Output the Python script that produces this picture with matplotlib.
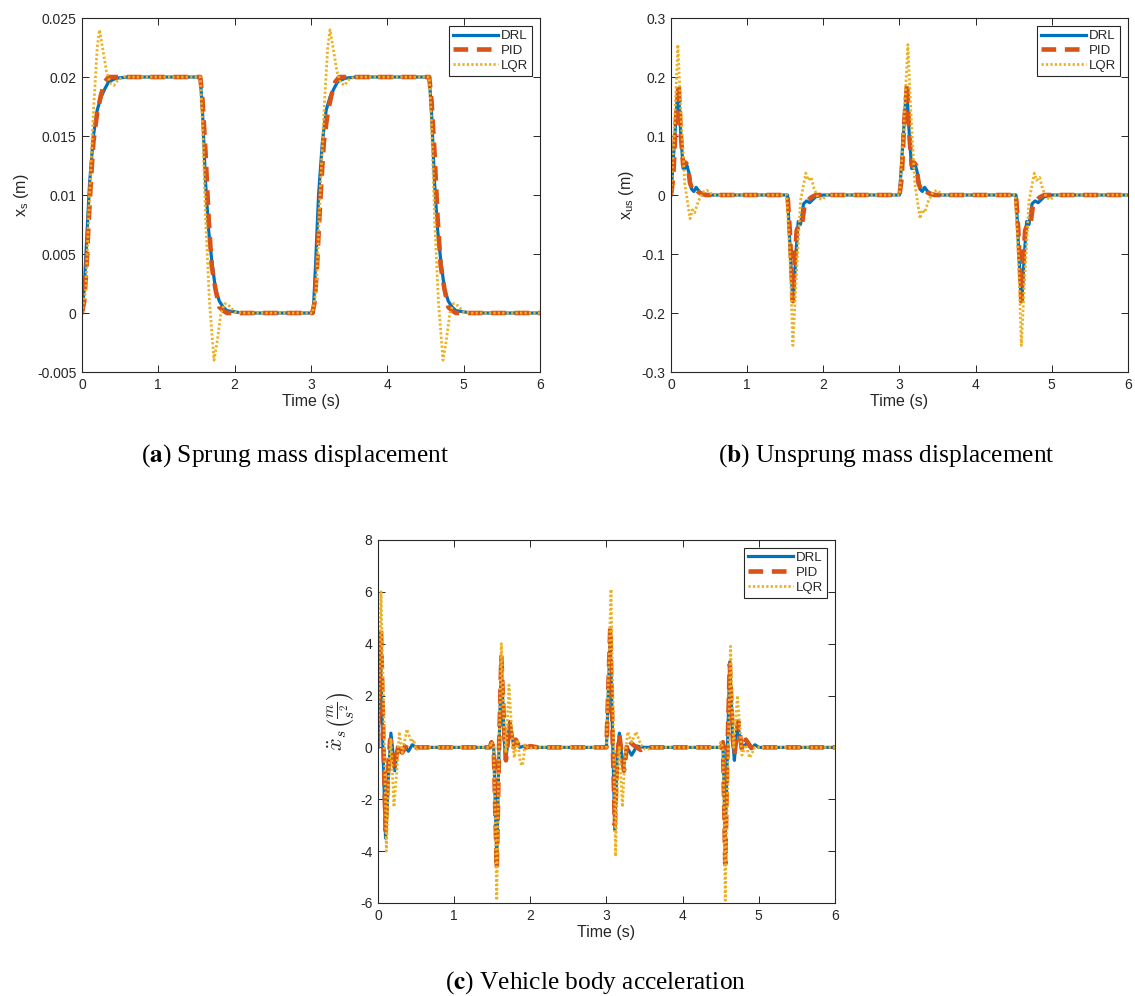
import matplotlib
matplotlib.use("Agg")
import matplotlib.pyplot as plt

plt.rcParams["font.family"] = ["Liberation Sans", "DejaVu Sans"]
plt.rcParams["axes.unicode_minus"] = False

C_DRL = "#0072BD"
C_PID = "#D95319"
C_LQR = "#EDB120"
TXT = "#262626"

TIME_TICKS = [0, 1, 2, 3, 4, 5, 6]

# ---- (a) sprung mass displacement (m)
a_drl_t = [0, 0.03, 0.06, 0.10, 0.15, 0.20, 0.25, 0.30, 0.35, 0.45, 0.60,
           1.55, 1.58, 1.62, 1.66, 1.70, 1.75, 1.80, 1.85, 1.90, 2.00, 2.10,
           3.03, 3.06, 3.10, 3.15, 3.20, 3.25, 3.30, 3.35, 3.45, 3.60,
           4.55, 4.58, 4.62, 4.66, 4.70, 4.75, 4.80, 4.85, 4.90, 5.00, 5.10, 6.0]
a_drl_y = [0, 0.002, 0.006, 0.011, 0.015, 0.0172, 0.0183, 0.019, 0.0196, 0.0199, 0.02,
           0.02, 0.017, 0.011, 0.007, 0.0045, 0.002, 0.001, 0.0005, 0.0002, 0.0001, 0,
           0, 0.004, 0.010, 0.0145, 0.0172, 0.0183, 0.019, 0.0196, 0.0199, 0.02,
           0.02, 0.017, 0.011, 0.007, 0.0045, 0.002, 0.001, 0.0005, 0.0002, 0.0001, 0, 0]

a_pid_t = [0, 0.03, 0.06, 0.09, 0.12, 0.15, 0.20, 0.25, 0.30, 0.35,
           1.55, 1.58, 1.62, 1.66, 1.70, 1.75, 1.80, 1.85, 1.90,
           3.02, 3.05, 3.08, 3.11, 3.14, 3.17, 3.22, 3.27, 3.32, 3.37,
           4.55, 4.58, 4.62, 4.66, 4.70, 4.75, 4.80, 4.85, 4.90, 6.0]
a_pid_y = [0, 0.001, 0.004, 0.008, 0.0115, 0.0145, 0.017, 0.0185, 0.0196, 0.02,
           0.02, 0.018, 0.0135, 0.008, 0.004, 0.002, 0.0005, 0.0002, 0,
           0, 0.001, 0.004, 0.008, 0.0115, 0.0145, 0.017, 0.0185, 0.0196, 0.02,
           0.02, 0.018, 0.0135, 0.008, 0.004, 0.002, 0.0005, 0.0002, 0, 0]

a_lqr_t = [0, 0.05, 0.10, 0.15, 0.20, 0.23, 0.27, 0.32, 0.37, 0.42, 0.48, 0.55,
           1.55, 1.58, 1.62, 1.67, 1.73, 1.77, 1.82, 1.87, 1.93, 2.00, 2.10,
           3.02, 3.07, 3.12, 3.17, 3.22, 3.25, 3.29, 3.34, 3.39, 3.44, 3.50, 3.57,
           4.55, 4.58, 4.62, 4.67, 4.73, 4.77, 4.82, 4.87, 4.93, 5.00, 5.10, 6.0]
a_lqr_y = [0, 0.002, 0.010, 0.017, 0.0225, 0.024, 0.0225, 0.0205, 0.0195, 0.0193, 0.0198, 0.02,
           0.02, 0.016, 0.008, 0.001, -0.004, -0.0025, 0.0, 0.0008, 0.0006, 0.0001, 0,
           0, 0.002, 0.010, 0.017, 0.0225, 0.024, 0.0225, 0.0205, 0.0195, 0.0193, 0.0198, 0.02,
           0.02, 0.016, 0.008, 0.001, -0.004, -0.0025, 0.0, 0.0008, 0.0006, 0.0001, 0, 0]

a_yticks = [-0.005, 0, 0.005, 0.01, 0.015, 0.02, 0.025]

# ---- (b) unsprung mass displacement (m)
b_drl_t = [0, 0.04, 0.08, 0.10, 0.13, 0.16, 0.18, 0.21, 0.24, 0.27, 0.30, 0.33, 0.37, 0.42, 0.50,
           1.53, 1.56, 1.59, 1.61, 1.64, 1.67, 1.70, 1.74, 1.78, 1.82, 1.86, 1.90, 2.00,
           3.00, 3.04, 3.08, 3.10, 3.13, 3.16, 3.18, 3.21, 3.24, 3.27, 3.30, 3.33, 3.37, 3.42, 3.50,
           4.53, 4.56, 4.59, 4.61, 4.64, 4.67, 4.70, 4.74, 4.78, 4.82, 4.86, 4.90, 5.00, 6.0]
b_drl_y = [0, 0.08, 0.16, 0.17, 0.10, 0.045, 0.045, 0.05, 0.035, 0.01, 0.006, 0.013, 0.006, 0.002, 0,
           0, -0.08, -0.16, -0.17, -0.10, -0.045, -0.05, -0.015, -0.01, -0.013, -0.008, -0.003, 0,
           0, 0.08, 0.16, 0.17, 0.10, 0.045, 0.045, 0.05, 0.035, 0.01, 0.006, 0.013, 0.006, 0.002, 0,
           0, -0.08, -0.16, -0.17, -0.10, -0.045, -0.05, -0.015, -0.01, -0.013, -0.008, -0.003, 0, 0]

b_pid_t = [0, 0.03, 0.06, 0.10, 0.13, 0.16, 0.19, 0.22, 0.25, 0.28, 0.32, 0.36, 0.40, 0.46,
           1.53, 1.56, 1.60, 1.62, 1.65, 1.68, 1.72, 1.75, 1.79, 1.84, 1.90,
           3.00, 3.03, 3.06, 3.10, 3.13, 3.16, 3.19, 3.22, 3.25, 3.28, 3.32, 3.36, 3.40, 3.46,
           4.53, 4.56, 4.60, 4.62, 4.65, 4.68, 4.72, 4.75, 4.79, 4.84, 4.90, 6.0]
b_pid_y = [0, 0.03, 0.12, 0.19, 0.10, 0.05, 0.055, 0.05, 0.02, 0.01, 0.012, 0.005, 0.002, 0,
           0, -0.06, -0.18, -0.12, -0.06, -0.05, -0.05, -0.02, -0.01, -0.004, 0,
           0, 0.03, 0.12, 0.19, 0.10, 0.05, 0.055, 0.05, 0.02, 0.01, 0.012, 0.005, 0.002, 0,
           0, -0.06, -0.18, -0.12, -0.06, -0.05, -0.05, -0.02, -0.01, -0.004, 0, 0]

b_lqr_t = [0, 0.04, 0.09, 0.13, 0.18, 0.25, 0.28, 0.31, 0.36, 0.42, 0.47, 0.55,
           1.52, 1.56, 1.60, 1.64, 1.70, 1.77, 1.80, 1.84, 1.88, 1.93, 1.98, 2.05,
           3.00, 3.05, 3.11, 3.15, 3.20, 3.27, 3.30, 3.33, 3.38, 3.44, 3.49, 3.57,
           4.52, 4.56, 4.60, 4.64, 4.70, 4.77, 4.80, 4.84, 4.88, 4.93, 4.98, 5.05, 6.0]
b_lqr_y = [0, 0.10, 0.255, 0.14, 0.02, -0.04, -0.025, -0.03, -0.01, 0.005, 0.008, 0,
           0, -0.10, -0.255, -0.15, -0.01, 0.037, 0.025, 0.03, 0.01, -0.004, -0.008, 0,
           0, 0.10, 0.255, 0.14, 0.02, -0.04, -0.025, -0.03, -0.01, 0.005, 0.008, 0,
           0, -0.10, -0.255, -0.15, -0.01, 0.037, 0.025, 0.03, 0.01, -0.004, -0.008, 0, 0]

b_yticks = [-0.3, -0.2, -0.1, 0, 0.1, 0.2, 0.3]

# ---- (c) vehicle body acceleration (m/s^2)
c_drl_t = [0, 0.03, 0.06, 0.10, 0.14, 0.17, 0.20, 0.22, 0.25, 0.27, 0.30, 0.35, 0.40, 0.45, 0.50,
           1.47, 1.49, 1.52, 1.56, 1.59, 1.62, 1.66, 1.68, 1.73, 1.78, 1.82, 1.86, 1.92, 2.00,
           3.00, 3.05, 3.08, 3.11, 3.14, 3.17, 3.20, 3.22, 3.27, 3.33, 3.40, 3.50,
           4.51, 4.53, 4.56, 4.59, 4.62, 4.66, 4.68, 4.72, 4.77, 4.85, 4.90, 4.95, 5.00, 6.0]
c_drl_y = [0, 4.0, 0.5, -3.5, -1.0, 0.55, -0.3, -0.9, -0.2, 0.0, -0.2, 0.05, -0.15, 0.1, 0,
           0, 0.2, 0, -4.3, 0, 3.2, 0.2, -0.5, 1.0, 0.1, 0.2, 0.0, 0.05, 0,
           0, 4.3, 0.5, -3.2, -0.5, 0.55, -0.3, -0.8, 0.0, -0.3, 0.05, 0,
           0, 0.2, -3.5, 0, 3.3, 0.2, -0.5, 1.0, 0.0, 0.15, -0.05, 0.1, 0, 0]

c_pid_t = [0, 0.04, 0.07, 0.10, 0.13, 0.16, 0.19, 0.22, 0.25, 0.28, 0.32, 0.38, 0.45,
           1.47, 1.49, 1.52, 1.56, 1.59, 1.62, 1.66, 1.68, 1.73, 1.78, 1.81, 1.86, 1.90, 1.95, 2.00, 2.10,
           3.00, 3.05, 3.08, 3.11, 3.14, 3.17, 3.20, 3.23, 3.28, 3.35, 3.45, 3.50,
           4.51, 4.53, 4.56, 4.59, 4.62, 4.66, 4.68, 4.73, 4.78, 4.83, 4.90, 6.0]
c_pid_y = [0, 4.5, 0.5, -3.2, -1.0, 0.3, -0.3, -0.8, -0.2, 0.2, -0.2, 0.1, 0,
           0, 0.2, 0, -4.7, 0, 3.5, 0.5, -0.5, 0.9, 0.0, 0.3, 0.0, 0.1, 0, 0.05, 0,
           0, 4.6, 0.5, -3.0, -0.5, 0.5, -0.3, -0.9, 0.3, 0.1, -0.1, 0,
           0, 0.2, -4.5, 0, 3.2, 0.3, -0.3, 1.0, -0.1, 0.3, 0, 0]

c_lqr_t = [0, 0.04, 0.08, 0.11, 0.15, 0.17, 0.21, 0.25, 0.28, 0.32, 0.38, 0.44, 0.47, 0.50, 0.55,
           1.47, 1.49, 1.52, 1.56, 1.59, 1.62, 1.66, 1.68, 1.72, 1.76, 1.79, 1.83, 1.87, 1.90, 1.93, 1.98, 2.05,
           3.00, 3.06, 3.09, 3.12, 3.15, 3.17, 3.21, 3.24, 3.28, 3.33, 3.39, 3.45, 3.52, 3.60,
           4.48, 4.50, 4.53, 4.56, 4.60, 4.63, 4.67, 4.72, 4.78, 4.83, 4.88, 4.95, 6.0]
c_lqr_y = [0, 6.0, 1.0, -4.0, -0.5, 0.3, -2.3, -0.8, 0.6, -0.2, 0.7, 0.2, 0.3, -0.1, 0,
           0, 0.2, 0, -5.9, 0, 4.0, 0.5, -0.2, 2.4, 0.5, -0.4, 0.3, -0.6, -0.7, 0.1, -0.05, 0,
           0, 6.1, 1.0, -4.2, -0.5, 0.0, -2.3, -0.5, 0.6, 0.2, 0.6, 0.1, -0.1, 0,
           0, 0.2, 0, -5.9, 0, 3.9, 0.0, 2.0, -0.3, 0.1, -0.4, 0, 0]

c_yticks = [-6, -4, -2, 0, 2, 4, 6, 8]

LEGEND_NAMES = ["DRL", "PID", "LQR"]


def draw_panel(ax, series, yticks, ylabel, label_kw=None):
    (t1, y1), (t2, y2), (t3, y3) = series
    ax.plot(t1, y1, color=C_DRL, lw=2.3, solid_joinstyle="round", label=LEGEND_NAMES[0])
    ax.plot(t2, y2, color=C_PID, lw=3.3, linestyle=(0, (3.2, 1.9)), label=LEGEND_NAMES[1])
    ax.plot(t3, y3, color=C_LQR, lw=2.0, linestyle=(0, (0.8, 0.8)), label=LEGEND_NAMES[2])

    ax.set_xlim(TIME_TICKS[0], TIME_TICKS[-1])
    ax.set_ylim(yticks[0], yticks[-1])
    ax.set_xticks(TIME_TICKS)
    ax.set_yticks(yticks)
    ax.set_yticklabels(["%g" % v for v in yticks])
    ax.tick_params(direction="in", top=True, right=True, length=5, width=0.7,
                   colors=TXT, labelsize=10, pad=4)
    for sp in ax.spines.values():
        sp.set_color(TXT)
        sp.set_linewidth(0.8)
    ax.set_xlabel("Time (s)", fontsize=11.5, color=TXT, labelpad=2)
    kw = {"fontsize": 11.5, "color": TXT}
    kw.update(label_kw or {})
    ax.set_ylabel(ylabel, **kw)

    leg = ax.legend(loc="upper right", fontsize=9.5, handlelength=3.4, handletextpad=0.2,
                    borderaxespad=0.6, borderpad=0.3, labelspacing=0.2, fancybox=False,
                    framealpha=1)
    leg.get_frame().set_edgecolor(TXT)
    leg.get_frame().set_linewidth(0.8)
    for txt in leg.get_texts():
        txt.set_color(TXT)


fig = plt.figure(figsize=(11.35, 9.96), dpi=100)

ax_a = fig.add_axes([0.0722, 0.6265, 0.4035, 0.3554])
draw_panel(ax_a, [(a_drl_t, a_drl_y), (a_pid_t, a_pid_y), (a_lqr_t, a_lqr_y)],
           a_yticks, r"x$_\mathregular{s}$ (m)")

ax_b = fig.add_axes([0.5912, 0.6265, 0.4026, 0.3554])
draw_panel(ax_b, [(b_drl_t, b_drl_y), (b_pid_t, b_pid_y), (b_lqr_t, b_lqr_y)],
           b_yticks, r"x$_\mathregular{us}$ (m)")

ax_c = fig.add_axes([0.3330, 0.0934, 0.4026, 0.3645])
draw_panel(ax_c, [(c_drl_t, c_drl_y), (c_pid_t, c_pid_y), (c_lqr_t, c_lqr_y)],
           c_yticks, r"$\ddot{x}_s\left(\frac{m}{s^2}\right)$",
           label_kw={"math_fontfamily": "cm", "fontsize": 16, "labelpad": 2})

cap_kw = dict(ha="center", va="center", fontsize=18.3, family="Liberation Serif",
              color="black", math_fontfamily="stix")
fig.text(295 / 1135, 1 - 456 / 996, r"($\mathbf{a}$) Sprung mass displacement", **cap_kw)
fig.text(886 / 1135, 1 - 456 / 996, r"($\mathbf{b}$) Unsprung mass displacement", **cap_kw)
fig.text(595 / 1135, 1 - 983 / 996, r"($\mathbf{c}$) Vehicle body acceleration", **cap_kw)

fig.savefig("out.png", dpi=100, facecolor="white")
